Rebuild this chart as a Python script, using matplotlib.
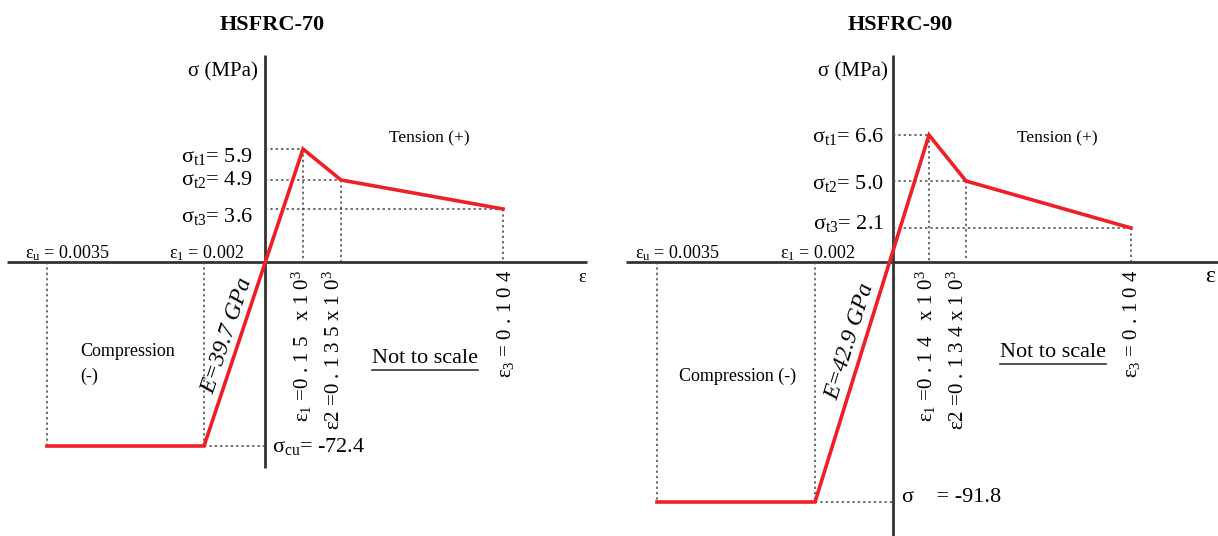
import math
import matplotlib
matplotlib.use("Agg")
import matplotlib.pyplot as plt
from matplotlib.lines import Line2D

plt.rcParams["font.family"] = ["Liberation Serif", "DejaVu Serif"]
plt.rcParams["mathtext.fontset"] = "custom"
plt.rcParams["mathtext.rm"] = "Liberation Serif"
plt.rcParams["mathtext.it"] = "Liberation Serif:italic"
plt.rcParams["mathtext.bf"] = "Liberation Serif:bold"

# ---- data -------------------------------------------------------------
# the diagram is "not to scale", so sketch_x / sketch_y are the drawn
# positions of the curve points: [eps_u, eps_1 (compr.), t1, t2, t3]
titles = ["HSFRC-70", "HSFRC-90"]

stress_70 = [5.9, 4.9, 3.6, -72.4]
strain_70 = ["0.15 x10", "0.135x10", "0.104"]
modulus_70 = 39.7
sketch_x_70 = [-218, -61, 38, 76, 238]
sketch_y_70 = [-184, -184, 113, 82, 53]

stress_90 = [6.6, 5.0, 2.1, -91.8]
strain_90 = ["0.14 x10", "0.134x10", "0.104"]
modulus_90 = 42.9
sketch_x_90 = [-236, -78, 36, 73, 238]
sketch_y_90 = [-240, -240, 127, 81, 34]

comp_labels = ["ε$_{\\rm u}$ = 0.0035", "ε$_{\\rm 1}$ = 0.002"]

AXIS_C = "#333333"
RED = "#ee1f26"
DOT_C = "#444444"
DOTS = (0, (1.5, 2.0))

fig = plt.figure(figsize=(12.18, 5.36), dpi=100)


def spaced(s):
    return " ".join(s)


def draw_panel(ax, title, stress, strains, modulus, xs, ys, lay):
    ax.set_xlim(*lay["xlim"])
    ax.set_ylim(-274, 262)
    ax.axis("off")

    # axes of the diagram
    ax.plot(lay["xaxis"], [0, 0], color=AXIS_C, lw=2, solid_capstyle="butt")
    ax.plot([0, 0], lay["yaxis"], color=AXIS_C, lw=2, solid_capstyle="butt")

    # dotted guide lines
    for x, y in zip(xs[:2], ys[:2]):
        ax.plot([x, x], [0, y], color=DOT_C, lw=1.1, ls=DOTS)
    ax.plot([xs[1], 0], [ys[1], ys[1]], color=DOT_C, lw=1.1, ls=DOTS)
    for x, y in zip(xs[2:], ys[2:]):
        ax.plot([0, x], [y, y], color=DOT_C, lw=1.1, ls=DOTS)
        ax.plot([x, x], [y, 0], color=DOT_C, lw=1.1, ls=DOTS)

    # stress-strain curve
    ax.plot(xs, ys, color=RED, lw=2.6, solid_joinstyle="miter", zorder=5)

    ax.text(7, 237, title, ha="center", va="center", fontsize=16,
            fontweight="bold")
    ax.text(lay["mpa_x"], 190, "σ (MPa)", ha="right", va="center", fontsize=15)
    ax.text(124, 124, "Tension (+)", ha="left", va="center", fontsize=12.5)
    ax.text(317, -15, "ε", ha="center", va="center", fontsize=lay["eps_fs"])

    # tension stress labels
    for i, (v, ly) in enumerate(zip(stress[:3], lay["sig_y"])):
        ax.text(lay["sig_x"], ly - 7, f"σ$_{{\\rm t{i+1}}}$= {v:.1f}",
                ha="right", va="baseline", fontsize=16)
    ax.text(lay["cu_x"], ys[1] + lay["cu_dy"] - 7,
            lay["cu_fmt"].format(stress[3]),
            ha="left", va="baseline", fontsize=16)

    # compression strain labels
    ax.text(xs[0] - 22, 4, comp_labels[0], ha="left", va="baseline", fontsize=13)
    ax.text(xs[1] + 3, 4, comp_labels[1], ha="center", va="baseline", fontsize=13)

    # rotated tension strain labels
    names = ["ε$_1$ =", "ε2 =", "ε$_3$ = "]
    offs = lay["rot_off"]
    for k in range(3):
        s = names[k] + spaced(strains[k])
        if k < 2:
            s += "$^3$"
        ax.text(xs[2 + k] + offs[k], -8, s, rotation=90, ha="center",
                va="top", fontsize=15)

    # modulus along the rising branch
    ang = math.degrees(math.atan2(ys[2] - ys[1], xs[2] - xs[1]))
    ax.text(lay["e_pos"][0], lay["e_pos"][1], f"E={modulus} GPa",
            rotation=ang, rotation_mode="anchor", ha="center", va="center",
            fontsize=17, style="italic")

    ax.text(lay["comp_pos"][0], lay["comp_pos"][1], lay["comp_text"],
            ha="left", va="center", fontsize=13, linespacing=1.6)

    nts = ax.text(107, lay["nts_y"], "Not to scale", ha="left",
                  va="baseline", fontsize=16)
    return nts


lay_70 = dict(xlim=(-265, 344), xaxis=[-258, 322], yaxis=[-206, 207],
              mpa_x=-7, eps_fs=13, sig_x=-12, sig_y=[107, 84, 47],
              cu_x=7, cu_dy=1, cu_fmt="σ$_{{\\rm cu}}$= {:.1f}",
              rot_off=[-1, -7, 2], e_pos=(-38, -74), comp_pos=(-185, -102),
              comp_text="Compression\n(-)", nts_y=-101)
lay_90 = dict(xlim=(-284, 325), xaxis=[-267, 330], yaxis=[-280, 207],
              mpa_x=-5, eps_fs=17, sig_x=-9, sig_y=[127, 80, 40],
              cu_x=9, cu_dy=7, cu_fmt="σ    = {:.1f}",
              rot_off=[-3, -8, 1], e_pos=(-43, -80), comp_pos=(-214, -114),
              comp_text="Compression (-)", nts_y=-95)

ax1 = fig.add_axes([0, 0, 0.5, 1])
ax2 = fig.add_axes([0.5, 0, 0.5, 1])
t1 = draw_panel(ax1, titles[0], stress_70, strain_70, modulus_70,
                sketch_x_70, sketch_y_70, lay_70)
t2 = draw_panel(ax2, titles[1], stress_90, strain_90, modulus_90,
                sketch_x_90, sketch_y_90, lay_90)

# underline "Not to scale"
fig.canvas.draw()
r = fig.canvas.get_renderer()
for t in (t1, t2):
    bb = t.get_window_extent(r).transformed(fig.transFigure.inverted())
    fig.add_artist(Line2D([bb.x0, bb.x1], [bb.y0 - 0.004, bb.y0 - 0.004],
                          transform=fig.transFigure, color="#333333", lw=1.2))

fig.savefig("out.png", dpi=100)
